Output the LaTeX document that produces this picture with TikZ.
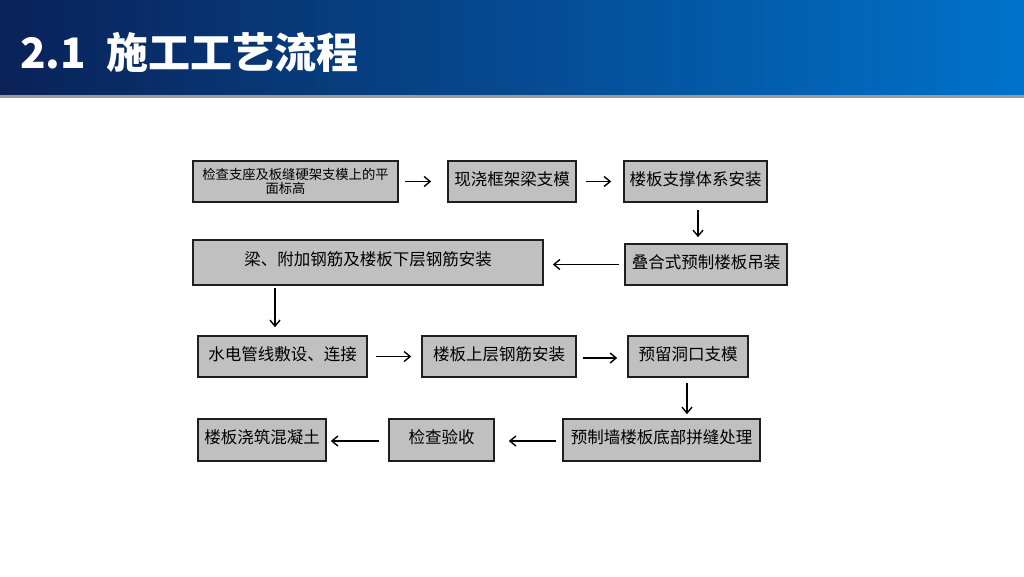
\documentclass[tikz,border=0pt]{standalone}
\usepackage{fontspec}
\usetikzlibrary{arrows.meta}
\newfontfamily\cjk{Noto Sans CJK SC}
\definecolor{hdrL}{HTML}{0A2258}
\definecolor{hdrM}{HTML}{08479A}
\definecolor{hdrR}{HTML}{0072CA}
\definecolor{boxfill}{HTML}{C0C0C0}
\definecolor{boxline}{HTML}{1E1E1E}
\begin{document}
\begin{tikzpicture}[x=1pt,y=-1pt,
  box/.style={draw=boxline, line width=1.6pt, fill=boxfill, inner sep=0pt,
    minimum height=41pt, align=center, font=\cjk\fontsize{16.5}{18}\selectfont, text=black},
  arr/.style={draw=black, line width=1.5pt, -{Straight Barb[length=6pt,width=10pt,line width=1.4pt]}}
]
\useasboundingbox (0,0) rectangle (1024,576);
\fill[white] (0,0) rectangle (1024,576);
% header
\shade[left color=hdrL, middle color=hdrM, right color=hdrR] (0,0) rectangle (1024,95);
\fill[gray!80] (0,95) rectangle (1024,98);
\node[anchor=west, text=white, inner sep=0pt, font=\cjk\bfseries\fontsize{42}{46}\selectfont] (title) at (20,52) {2.1\hspace{20pt}施工工艺流程};
% boxes
\node[box, minimum width=205pt, font=\cjk\fontsize{13.3}{14}\selectfont] (b1) at (295.5,181.5) {\raisebox{3pt}{\parbox{204pt}{\centering 检查支座及板缝硬架支模上的平\\\hspace*{-20pt}面标高}}};
\node[box, minimum width=128pt] (b2) at (512,181.5) {\raisebox{6pt}{现浇框架梁支模}};
\node[box, minimum width=143pt] (b3) at (695.5,181.5) {\raisebox{6pt}{楼板支撑体系安装}};
\node[box, minimum width=350pt, minimum height=45pt] (b4) at (368,262.5) {\raisebox{7pt}{梁、附加钢筋及楼板下层钢筋安装}};
\node[box, minimum width=162pt] (b5) at (706,264.5) {\raisebox{5pt}{叠合式预制楼板吊装}};
\node[box, minimum width=169pt] (b6) at (282.5,356.5) {\raisebox{5pt}{水电管线敷设、连接}};
\node[box, minimum width=154pt] (b7) at (499,356.5) {\raisebox{5pt}{楼板上层钢筋安装}};
\node[box, minimum width=120pt] (b8) at (688,356.5) {\raisebox{5pt}{预留洞口支模}};
\node[box, minimum width=197pt, minimum height=42pt] (b9) at (661.5,440) {\raisebox{6pt}{预制墙楼板底部拼缝处理}};
\node[box, minimum width=105pt, minimum height=42pt] (b10) at (441.5,440) {\raisebox{6pt}{检查验收}};
\node[box, minimum width=128pt, minimum height=42pt] (b11) at (262,440) {\raisebox{6pt}{楼板浇筑混凝土}};
% connectors
\draw[arr, shorten <=6pt, shorten >=16pt] (b1.east) -- (b2.west);
\draw[arr, shorten <=9pt, shorten >=12pt] (b2.east) -- (b3.west);
\draw[arr, shorten <=7pt, shorten >=6pt] ([xshift=2.5pt]b3.south) -- ([xshift=2.5pt]b3.south |- b5.north);
\draw[arr, shorten <=5pt, shorten >=9pt] (b5.west) -- (b4.east |- b5.west);
\draw[arr, shorten <=2pt, shorten >=8pt] ([xshift=-7.5pt]b6.north |- b4.south) -- ([xshift=-7.5pt]b6.north);
\draw[arr, shorten <=8pt, shorten >=10pt] (b6.east) -- (b7.west);
\draw[arr, shorten <=6pt, shorten >=10pt] ([yshift=-1.5pt]b7.east) -- ([yshift=-1.5pt]b8.west);
\draw[arr, shorten <=5pt, shorten >=4pt] ([xshift=-1pt]b8.south) -- ([xshift=-1pt]b8.south |- b9.north);
\draw[arr, shorten <=6pt, shorten >=14pt] ([yshift=-1pt]b9.west) -- ([yshift=-1pt]b10.east);
\draw[arr, shorten <=9pt, shorten >=4pt] ([yshift=-1pt]b10.west) -- ([yshift=-1pt]b11.east);
\end{tikzpicture}
\end{document}
